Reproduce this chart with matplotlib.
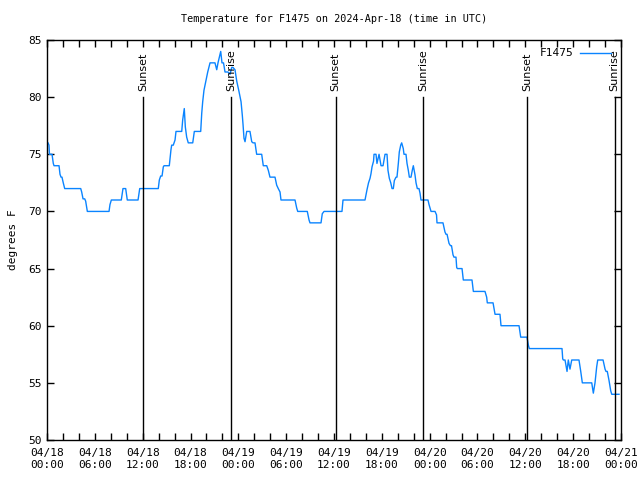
from matplotlib import pyplot as plt
from matplotlib.ticker import MultipleLocator

# hours since 04/18 00:00 UTC, temperature in F
hours = [0.00, 0.13, 0.25, 0.31, 0.63, 0.79, 0.88, 1.51, 1.63, 1.76, 1.88, 2.04, 2.22, 4.23, 4.35,
         4.52, 4.73, 4.85, 5.06, 7.78, 7.90, 8.07, 9.32, 9.53, 9.87, 10.07, 11.42, 11.63, 13.96,
         14.09, 14.26, 14.43, 14.59, 14.68, 15.34, 15.55, 15.64, 15.84, 16.06, 16.18, 16.90, 17.02,
         17.22, 17.35, 17.52, 17.72, 18.28, 18.48, 19.28, 19.41, 19.53, 19.69, 19.95, 20.16, 20.45,
         21.07, 21.29, 21.45, 21.79, 21.95, 22.14, 22.33, 22.70, 22.96, 23.17, 23.33, 23.58, 23.80,
         24.08, 24.34, 24.50, 24.59, 24.71, 24.84, 25.05, 25.46, 25.68, 25.84, 26.09, 26.30, 26.93,
         27.13, 27.56, 27.76, 27.97, 28.60, 28.81, 29.01, 29.23, 29.35, 31.11, 31.32, 31.45, 32.65,
         32.87, 32.99, 34.37, 34.53, 34.75, 37.00, 37.13, 39.89, 40.14, 40.33, 40.52, 40.64, 40.77,
         40.96, 41.02, 41.27, 41.39, 41.65, 41.90, 42.15, 42.40, 42.65, 42.77, 42.94, 43.12, 43.28,
         43.44, 43.57, 43.78, 43.90, 44.07, 44.19, 44.37, 44.49, 44.69, 44.78, 45.03, 45.16, 45.32,
         45.45, 45.66, 45.82, 45.95, 46.16, 46.29, 46.45, 46.66, 46.79, 46.91, 47.79, 47.92, 48.17,
         48.67, 48.86, 48.92, 49.67, 49.92, 50.05, 50.18, 50.43, 50.61, 50.74, 50.93, 51.05, 51.30,
         51.39, 51.47, 52.06, 52.22, 53.31, 53.48, 54.94, 55.15, 55.23, 55.95, 56.20, 56.82, 56.95,
         59.21, 59.42, 60.21, 60.38, 60.50, 64.60, 64.69, 64.77, 64.98, 65.10, 65.23, 65.39, 65.60,
         65.82, 66.73, 66.95, 67.15, 68.33, 68.53, 68.74, 68.95, 69.08, 69.75, 70.00, 70.12, 70.28,
         70.50, 70.71, 70.84, 71.75]
temps = [76.1, 76, 75.8, 75, 75, 74.2, 74, 74, 73.25, 73, 73, 72.5, 72, 72, 71.7,
         71.1, 71.1, 70.9, 70, 70, 70.6, 71, 71, 72, 72, 71, 71, 72, 72,
         72.75, 73.1, 73.1, 73.9, 74, 74, 75.4, 75.8, 75.8, 76.25, 77, 77, 78,
         79, 77.4, 76.5, 76, 76, 77, 77, 78.6, 79.6, 80.6, 81.5, 82.2, 83,
         83, 82.4, 83, 84, 83, 83, 82.2, 82.2, 82, 82.6, 82.6, 82.4, 81.4,
         80.5, 79.6, 78.4, 77.6, 76.4, 76.1, 77, 77, 76.1, 76, 76, 75, 75,
         74, 74, 73.6, 73, 73, 72.3, 72, 71.7, 71, 71, 70.3, 70, 70,
         69.25, 69, 69, 69.8, 70, 70, 71, 71, 71.9, 72.5, 72.9, 73.3, 73.9,
         74.4, 75, 75, 74.2, 75, 74, 74, 75, 75, 73.6, 72.9, 72.5, 72,
         72, 72.7, 73, 73, 74.2, 75.2, 75.8, 76, 75.5, 75, 75, 74.2, 73.6,
         73, 73, 73.6, 74, 73.2, 72.5, 72, 72, 71.6, 71, 71, 70.6, 70,
         70, 69.7, 69, 69, 68.2, 68, 68, 67.2, 67, 67, 66.2, 66, 66,
         65.1, 65, 65, 64, 64, 63, 63, 62.5, 62, 62, 61, 61, 60,
         60, 59, 59, 58.3, 58, 58, 57.1, 57, 57, 56.5, 56, 57, 56.2,
         57, 57, 56, 55, 55, 54.1, 55, 56.4, 57, 57, 56.2, 56, 56,
         55.2, 54.3, 54, 54]

sun_hours = [12.08, 23.13, 36.19, 47.20, 60.25, 71.21]
sun_names = ["Sunset", "Sunrise", "Sunset", "Sunrise", "Sunset", "Sunrise"]

tick_labels = ["04/18\n00:00", "04/18\n06:00", "04/18\n12:00", "04/18\n18:00",
               "04/19\n00:00", "04/19\n06:00", "04/19\n12:00", "04/19\n18:00",
               "04/20\n00:00", "04/20\n06:00", "04/20\n12:00", "04/20\n18:00",
               "04/21\n00:00"]

plt.rcParams['font.family'] = 'DejaVu Sans Mono'
plt.rcParams['font.size'] = 8

fig = plt.figure(figsize=(6.4, 4.8), dpi=100)
ax = fig.add_axes([47/640, 40/480, 574/640, 400/480])

ax.plot(hours, temps, color='#0a84ff', lw=1, label='F1475')

for h, name in zip(sun_hours, sun_names):
    ax.plot([h, h], [50, 80], color='black', lw=1)
    ax.text(h, 80.5, name, rotation=90, ha='center', va='bottom',
            fontsize=8, family='DejaVu Sans')

ax.set_xlim(0, 72)
ax.set_ylim(50, 85)
ax.set_xticks(range(0, 73, 6))
ax.set_xticklabels(tick_labels)
ax.xaxis.set_minor_locator(MultipleLocator(2))
ax.yaxis.set_major_locator(MultipleLocator(5))
ax.tick_params(which='both', direction='in', top=True, right=True, length=5, width=1)
ax.tick_params(axis='x', pad=6)
for s in ax.spines.values():
    s.set_linewidth(1)

ax.set_ylabel("degrees F", labelpad=8)
ax.set_title("Temperature for F1475 on 2024-Apr-18 (time in UTC)", fontsize=7.3, pad=13)
ax.legend(loc='upper right', bbox_to_anchor=(0.99, 0.99), frameon=False, markerfirst=False,
          handlelength=2.8, borderaxespad=0, handletextpad=0.6)

plt.savefig("out.png", dpi=100)
